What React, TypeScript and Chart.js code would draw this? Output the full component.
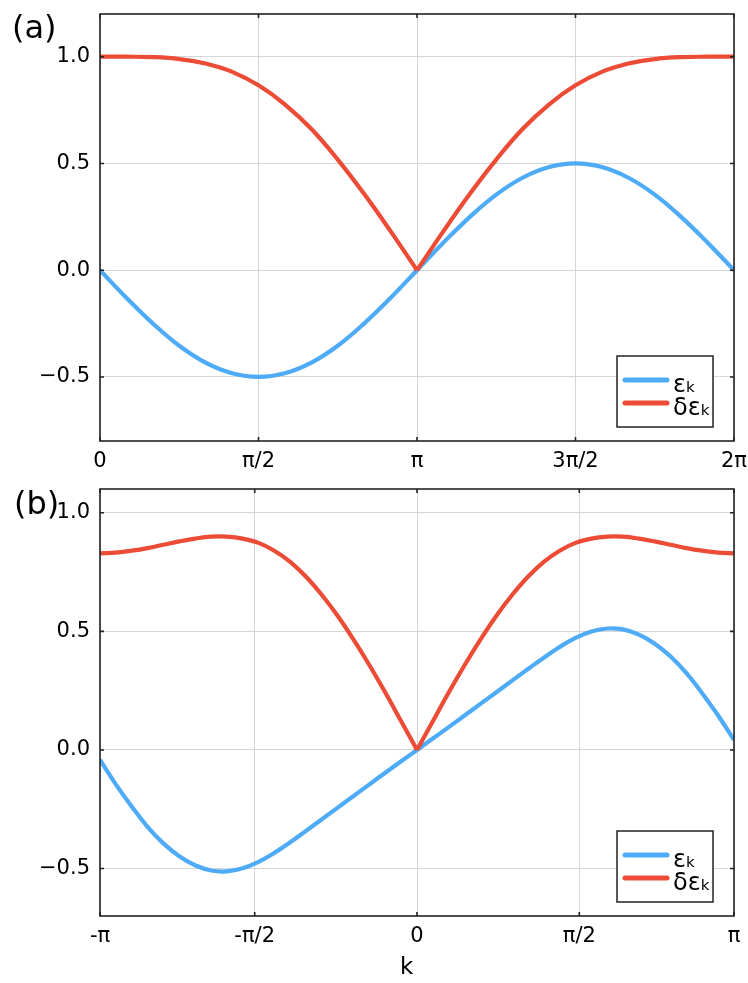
import React, { useEffect, useRef } from 'react';
import { Chart, registerables } from 'chart.js';

Chart.register(...registerables);

const FONT = '"DejaVu Sans", "Noto Sans", sans-serif';
const BLUE = '#4dabf7';
const RED = '#ec4c36';

const seriesLabels = ['εₖ', 'δεₖ'];

// panel (a): k in units of π
const kA = [0, 0.083, 0.167, 0.25, 0.333, 0.417, 0.5, 0.583, 0.667, 0.75, 0.833, 0.917, 1,
  1.083, 1.167, 1.25, 1.333, 1.417, 1.5, 1.583, 1.667, 1.75, 1.833, 1.917, 2];
const epsA = [0, -0.129, -0.25, -0.354, -0.433, -0.483, -0.5, -0.483, -0.433, -0.354, -0.25, -0.129, 0,
  0.129, 0.25, 0.354, 0.433, 0.483, 0.5, 0.483, 0.433, 0.354, 0.25, 0.129, 0];
const dEpsA = [1.0, 1.0, 0.998, 0.989, 0.968, 0.929, 0.866, 0.777, 0.661, 0.518, 0.358, 0.182, 0,
  0.182, 0.358, 0.518, 0.661, 0.777, 0.866, 0.929, 0.968, 0.989, 0.998, 1.0, 1.0];
const xTicksA = [0, 0.5, 1, 1.5, 2];
const xLabelsA = ['0', 'π/2', 'π', '3π/2', '2π'];
const yTicksA = [-0.5, 0, 0.5, 1.0];

// panel (b): k in units of π
const kB = [-1, -0.95, -0.9, -0.85, -0.8, -0.75, -0.7, -0.65, -0.6, -0.55, -0.5, -0.45, -0.4, -0.35, -0.3,
  -0.25, -0.2, -0.15, -0.1, -0.05, 0, 0.05, 0.1, 0.15, 0.2, 0.25, 0.3, 0.35, 0.4, 0.45, 0.5,
  0.55, 0.6, 0.65, 0.7, 0.75, 0.8, 0.85, 0.9, 0.95, 1];
const epsB = [-0.042, -0.145, -0.238, -0.324, -0.394, -0.448, -0.486, -0.508, -0.512, -0.499, -0.472,
  -0.434, -0.389, -0.341, -0.292, -0.243, -0.194, -0.145, -0.096, -0.048, 0,
  0.048, 0.096, 0.145, 0.194, 0.243, 0.292, 0.341, 0.389, 0.434, 0.472,
  0.499, 0.512, 0.508, 0.486, 0.448, 0.394, 0.324, 0.238, 0.145, 0.042];
const dEpsB = [0.829, 0.832, 0.84, 0.851, 0.865, 0.879, 0.891, 0.899, 0.899, 0.891, 0.873,
  0.84, 0.793, 0.73, 0.653, 0.565, 0.465, 0.357, 0.242, 0.121, 0,
  0.121, 0.242, 0.357, 0.465, 0.565, 0.653, 0.73, 0.793, 0.84, 0.873,
  0.891, 0.899, 0.899, 0.891, 0.879, 0.865, 0.851, 0.84, 0.832, 0.829];
const xTicksB = [-1, -0.512, 0, 0.512, 1];
const xLabelsB = ['-π', '-π/2', '0', 'π/2', 'π'];
const yTicksB = [-0.5, 0, 0.5, 1.0];

const toPoints = (xs: number[], ys: number[]) => xs.map((x, i) => ({ x, y: ys[i] }));

// frame with inward ticks on all four sides, plus the boxed legend
const framePlugin = {
  id: 'frameAndLegend',
  afterDatasetsDraw(chart: any) {
    const { ctx, chartArea: a, scales } = chart;
    ctx.save();
    ctx.strokeStyle = '#222';
    ctx.lineWidth = 1.6;
    ctx.strokeRect(a.left, a.top, a.right - a.left, a.bottom - a.top);
    const t = 4;
    ctx.beginPath();
    scales.x.ticks.forEach((tk: any) => {
      const px = scales.x.getPixelForValue(tk.value);
      ctx.moveTo(px, a.top); ctx.lineTo(px, a.top + t);
      ctx.moveTo(px, a.bottom); ctx.lineTo(px, a.bottom - t);
    });
    scales.y.ticks.forEach((tk: any) => {
      const py = scales.y.getPixelForValue(tk.value);
      ctx.moveTo(a.left, py); ctx.lineTo(a.left + t, py);
      ctx.moveTo(a.right, py); ctx.lineTo(a.right - t, py);
    });
    ctx.stroke();

    // legend box
    const w = 96, h = 71;
    const bx = a.right - 21 - w;
    const by = a.bottom - 14 - h;
    ctx.fillStyle = '#fff';
    ctx.fillRect(bx, by, w, h);
    ctx.lineWidth = 1.5;
    ctx.strokeRect(bx, by, w, h);
    const items = [
      { label: seriesLabels[0], color: BLUE },
      { label: seriesLabels[1], color: RED },
    ];
    items.forEach((it, i) => {
      const ly = by + 24 + i * 23;
      ctx.strokeStyle = it.color;
      ctx.lineWidth = 5;
      ctx.lineCap = 'round';
      ctx.beginPath();
      ctx.moveTo(bx + 8, ly);
      ctx.lineTo(bx + 50, ly);
      ctx.stroke();
      ctx.fillStyle = '#000';
      ctx.font = `24px ${FONT}`;
      ctx.textBaseline = 'alphabetic';
      ctx.textAlign = 'left';
      ctx.fillText(it.label, bx + 56, ly + 12);
    });
    ctx.restore();
  },
};

// keep the plot box where the layout padding puts it
const noScalePadding = (s: any) => {
  s.paddingLeft = 0;
  s.paddingRight = 0;
  s.paddingTop = 0;
  s.paddingBottom = 0;
};

interface PanelProps {
  k: number[];
  eps: number[];
  dEps: number[];
  xTicks: number[];
  xLabels: string[];
  yTicks: number[];
  xMin: number;
  xMax: number;
  yMin: number;
  yMax: number;
  xAxisHeight: number;
}

const Panel: React.FC<PanelProps> = (p) => {
  const canvasRef = useRef<HTMLCanvasElement>(null);
  const chartRef = useRef<Chart | null>(null);

  useEffect(() => {
    const ctx = canvasRef.current?.getContext('2d');
    if (!ctx) return;
    if (chartRef.current) chartRef.current.destroy();

    // split δε at its cusp so the kink stays sharp
    let cusp = 0;
    p.dEps.forEach((v, i) => { if (v < p.dEps[cusp]) cusp = i; });
    const red = toPoints(p.k, p.dEps);
    const tickFont = { family: FONT, size: 21 };

    chartRef.current = new Chart(ctx, {
      type: 'line',
      data: {
        datasets: [
          { label: seriesLabels[1], data: red.slice(0, cusp + 1), borderColor: RED },
          { label: seriesLabels[1], data: red.slice(cusp), borderColor: RED },
          { label: seriesLabels[0], data: toPoints(p.k, p.eps), borderColor: BLUE },
        ],
      },
      options: {
        animation: false,
        responsive: true,
        maintainAspectRatio: false,
        layout: { padding: { left: 0, right: 14, top: 14, bottom: 0 } },
        elements: {
          point: { radius: 0 },
          line: { borderWidth: 4.2, tension: 0.4, fill: false },
        },
        plugins: { legend: { display: false }, tooltip: { enabled: false } },
        scales: {
          x: {
            type: 'linear',
            min: p.xMin,
            max: p.xMax,
            afterBuildTicks: (s: any) => { s.ticks = p.xTicks.map((v) => ({ value: v })); },
            afterFit: (s: any) => { s.height = p.xAxisHeight; noScalePadding(s); },
            ticks: {
              callback: (v: any) => p.xLabels[p.xTicks.indexOf(Number(v))] ?? '',
              font: tickFont,
              color: '#000',
              padding: 8,
              maxRotation: 0,
              autoSkip: false,
            },
            grid: { color: '#d6d6d6', lineWidth: 1, drawTicks: false },
            border: { display: false },
          },
          y: {
            type: 'linear',
            min: p.yMin,
            max: p.yMax,
            afterBuildTicks: (s: any) => { s.ticks = p.yTicks.map((v) => ({ value: v })); },
            afterFit: (s: any) => { s.width = 100; noScalePadding(s); },
            ticks: {
              callback: (v: any) => (Number(v) < 0 ? '−' : '') + Math.abs(Number(v)).toFixed(1),
              font: tickFont,
              color: '#000',
              padding: 10,
            },
            grid: { color: '#d6d6d6', lineWidth: 1, drawTicks: false },
            border: { display: false },
          },
        },
      },
      plugins: [framePlugin],
    });

    return () => {
      if (chartRef.current) {
        chartRef.current.destroy();
        chartRef.current = null;
      }
    };
  }, []);

  return <canvas ref={canvasRef} />;
};

const panelLabel: React.CSSProperties = {
  position: 'absolute',
  fontFamily: FONT,
  fontSize: 32,
  lineHeight: 1,
  color: '#000',
};

export default function App() {
  return (
    <div style={{ position: 'fixed', left: 0, top: 0, width: 748, height: 983, background: '#fff' }}>
      <div style={{ position: 'absolute', left: 0, top: 0, width: 748, height: 475 }}>
        <Panel k={kA} eps={epsA} dEps={dEpsA} xTicks={xTicksA} xLabels={xLabelsA} yTicks={yTicksA}
          xMin={0} xMax={2} yMin={-0.8} yMax={1.2} xAxisHeight={34} />
      </div>
      <div style={{ position: 'absolute', left: 0, top: 475, width: 748, height: 508 }}>
        <Panel k={kB} eps={epsB} dEps={dEpsB} xTicks={xTicksB} xLabels={xLabelsB} yTicks={yTicksB}
          xMin={-1} xMax={1} yMin={-0.7} yMax={1.1} xAxisHeight={67} />
      </div>
      <span style={{ ...panelLabel, left: 12, top: 11 }}>(a)</span>
      <span style={{ ...panelLabel, left: 14, top: 487 }}>(b)</span>
      <span style={{ ...panelLabel, fontSize: 23, left: 400, top: 955 }}>k</span>
    </div>
  );
}
